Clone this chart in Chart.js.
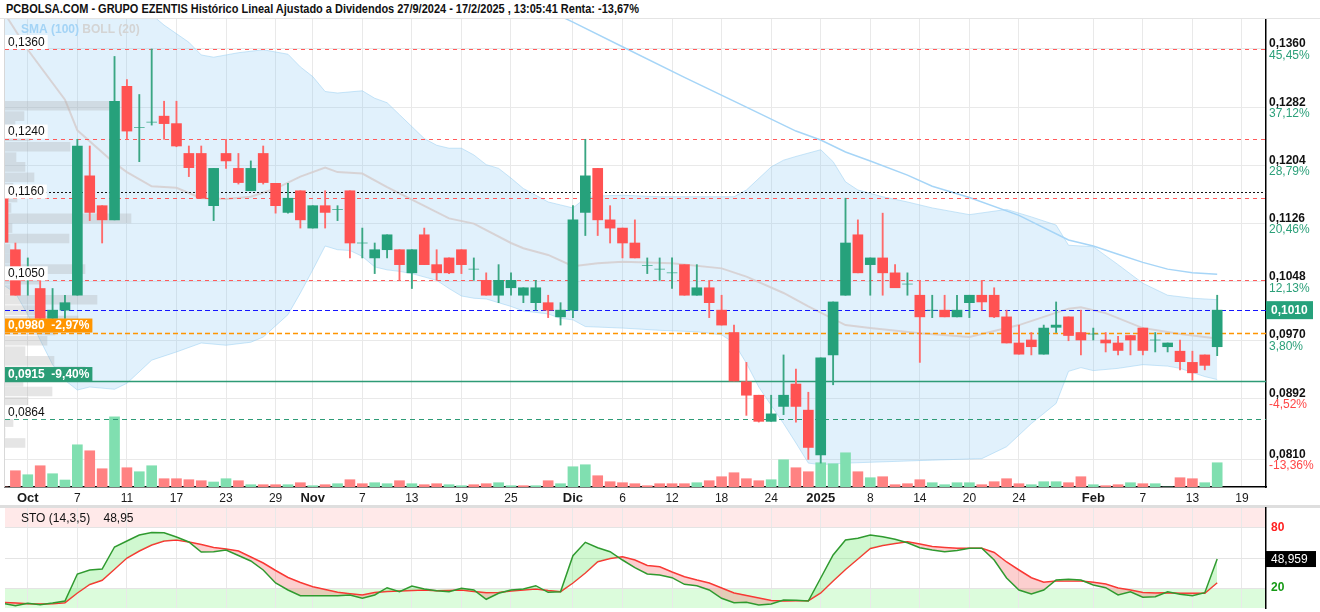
<!DOCTYPE html>
<html lang="es">
<head>
<meta charset="utf-8">
<title>GRUPO EZENTIS</title>
<script src="https://cdn.jsdelivr.net/npm/chart.js@4.4.1/dist/chart.umd.min.js"></script>
<style>
  html, body { margin: 0; padding: 0; background: #fff; }
  body { width: 1320px; height: 612px; position: relative; overflow: hidden;
         font-family: "Liberation Sans Narrow", "Liberation Sans", Arial, sans-serif; }
  #titleBar { position: absolute; left: 0; top: 0; width: 1320px; height: 19px; background: #fff;
              border-bottom: 1px solid #e4e4e4; box-sizing: border-box; z-index: 2; }
  #title { position: absolute; left: 6px; top: 0; font-weight: bold; font-size: 12px; line-height: 19px;
           color: #111; white-space: nowrap; transform: scaleX(0.915); transform-origin: left center; }
  #main { position: absolute; left: 0; top: 0; }
  #sep { position: absolute; left: 0; top: 505px; width: 1320px; height: 3px; background: #dedede; }
  #sto { position: absolute; left: 0; top: 505px; }
  #stoTitle { position: absolute; left: 21px; top: 511px; font-size: 12px; color: #111; white-space: pre; }
</style>
</head>
<body>
<div id="titleBar"><div id="title">PCBOLSA.COM - GRUPO EZENTIS Histórico Lineal Ajustado a Dividendos 27/9/2024 - 17/2/2025 , 13:05:41 Renta: -13,67%</div></div>
<canvas id="main" width="1320" height="507"></canvas>
<div id="sep"></div>
<canvas id="sto" width="1320" height="107"></canvas>
<div id="stoTitle">STO (14,3,5)    48,95</div>
<script>
const FONT = '"Liberation Sans Narrow", "Liberation Sans", Arial, sans-serif';
const UP = '#26a17b';
const DOWN = '#ff5252';

// eje x: una sesion por indice, 0 = 27/9/2024 ... 98 = 17/2/2025
const xTickIdx = [2, 6, 10, 14, 18, 22, 25, 29, 33, 37, 41, 46, 50, 54, 58, 62, 66, 70, 74, 78, 82, 88, 92, 96, 100];
const xTickLabels = ['Oct', '7', '11', '17', '23', '29', 'Nov', '7', '13', '19', '25', 'Dic', '6', '12', '18', '24', '2025', '8', '14', '20', '24', 'Feb', '7', '13', '19'];
const majorLabels = ['Oct', 'Nov', 'Dic', '2025', 'Feb'];

// eje de precios
const yTickVals = [0.1360, 0.1282, 0.1204, 0.1126, 0.1048, 0.0970, 0.0892, 0.0810];
const yTickLabels = ['0,1360', '0,1282', '0,1204', '0,1126', '0,1048', '0,0970', '0,0892', '0,0810'];
const yTickPct = ['45,45%', '37,12%', '28,79%', '20,46%', '12,13%', '3,80%', '-4,52%', '-13,36%'];

// velas
const opens = [
  .1160, .1091, .1055, .1039, .0999, .1010, .1030, .1190, .1150, .1131,
  .1310, .1255, .1262, .1270, .1260, .1220, .1220, .1150, .1220, .1200,
  .1170, .1220, .1180, .1141, .1170, .1120, .1150, .1145, .1170, .1100,
  .1080, .1091, .1091, .1060, .1111, .1071, .1080, .1091, .1065, .1050,
  .1030, .1040, .1030, .1020, .1020, .1001, .1010, .1141, .1200, .1131,
  .1120, .1100, .1070, .1065, .1060, .1071, .1030, .1040, .1010, .0980,
  .0914, .0896, .0861, .0881, .0911, .0876, .0816, .0950, .1030, .1111,
  .1071, .1080, .1060, .1045, .1030, .1010, .1010, .1001, .1020, .1030,
  .1030, .1001, .0966, .0970, .0951, .0987, .1001, .0980, .0978, .0970,
  .0966, .0976, .0986, .0970, .0961, .0955, .0940, .0950, .0961];
const highs = [
  .1160, .1100, .1080, .1050, .1039, .1030, .1239, .1230, .1150, .1350,
  .1319, .1299, .1360, .1290, .1290, .1230, .1230, .1200, .1239, .1220,
  .1210, .1230, .1180, .1180, .1170, .1150, .1170, .1150, .1170, .1120,
  .1100, .1111, .1091, .1091, .1120, .1091, .1080, .1091, .1080, .1060,
  .1071, .1060, .1040, .1050, .1030, .1020, .1150, .1239, .1200, .1150,
  .1120, .1131, .1080, .1080, .1080, .1071, .1071, .1050, .1030, .0990,
  .0940, .0896, .0896, .0950, .0931, .0900, .0946, .1021, .1160, .1131,
  .1080, .1140, .1071, .1060, .1050, .1030, .1030, .1030, .1030, .1050,
  .1040, .1010, .0990, .0980, .0990, .1021, .1001, .1010, .0986, .0980,
  .0975, .0976, .0986, .0980, .0966, .0970, .0955, .0950, .1030];
const lows = [
  .1101, .1030, .1030, .0990, .0994, .0999, .1030, .1130, .1100, .1131,
  .1239, .1209, .1258, .1239, .1229, .1189, .1160, .1130, .1200, .1179,
  .1170, .1179, .1140, .1140, .1120, .1120, .1120, .1130, .1080, .1080,
  .1059, .1080, .1050, .1039, .1071, .1050, .1059, .1059, .1050, .1030,
  .1020, .1030, .1020, .1010, .1000, .0990, .1000, .1110, .1110, .1100,
  .1080, .1080, .1059, .1050, .1039, .1030, .1030, .1000, .0990, .0915,
  .0869, .0860, .0861, .0870, .0860, .0810, .0805, .0910, .1030, .1060,
  .1030, .1030, .1040, .1030, .0940, .1000, .1001, .1001, .1000, .1010,
  .1000, .0966, .0951, .0950, .0951, .0980, .0969, .0950, .0970, .0954,
  .0950, .0950, .0950, .0954, .0954, .0930, .0916, .0930, .0949];
const closes = [
  .1101, .1030, .1063, .0999, .1010, .1020, .1230, .1141, .1131, .1290,
  .1250, .1255, .1262, .1260, .1230, .1201, .1160, .1200, .1210, .1181,
  .1200, .1181, .1150, .1160, .1131, .1150, .1141, .1145, .1100, .1100,
  .1091, .1111, .1071, .1091, .1071, .1060, .1060, .1071, .1065, .1030,
  .1050, .1050, .1040, .1040, .1010, .1010, .1131, .1190, .1131, .1120,
  .1100, .1080, .1070, .1065, .1060, .1030, .1040, .1020, .0990, .0915,
  .0896, .0861, .0871, .0896, .0881, .0826, .0946, .1021, .1100, .1060,
  .1080, .1060, .1040, .1045, .1001, .1010, .1001, .1010, .1030, .1021,
  .1001, .0966, .0951, .0961, .0986, .0990, .0976, .0970, .0978, .0966,
  .0956, .0970, .0956, .0970, .0966, .0941, .0926, .0936, .1010];

// volumen (miles de titulos) y sentido de la barra
const volumes = [
  0, 1630, 1230, 2130, 1330, 700, 4230, 3630, 1830, 7030,
  1930, 1530, 2130, 830, 830, 730, 630, 500, 830, 630,
  230, 230, 230, 230, 430, 130, 230, 330, 730, 330,
  430, 330, 630, 330, 230, 330, 230, 130, 230, 330,
  430, 130, 130, 130, 630, 330, 2030, 2230, 1130, 530,
  430, 330, 130, 330, 330, 330, 430, 630, 1030, 1430,
  830, 630, 730, 2730, 1930, 1530, 2430, 2330, 3430, 1530,
  930, 1030, 230, 330, 730, 430, 230, 430, 430, 230,
  530, 830, 330, 230, 530, 530, 430, 1030, 230, 130,
  230, 430, 330, 330, 0, 930, 830, 430, 2430];
const volDir = [
  -1, -1, 1, -1, 1, 1, 1, -1, -1, 1,
  -1, 1, 1, -1, -1, -1, -1, 1, 1, -1,
  1, -1, -1, 1, -1, 1, -1, 1, -1, -1,
  1, 1, -1, 1, -1, -1, 1, 1, -1, -1,
  1, 1, -1, 1, -1, 1, 1, 1, -1, -1,
  -1, -1, -1, -1, -1, -1, 1, -1, -1, -1,
  -1, -1, 1, 1, -1, -1, 1, 1, 1, -1,
  1, -1, -1, -1, -1, 1, 1, 1, 1, -1,
  -1, -1, -1, 1, 1, 1, -1, -1, 1, -1,
  -1, 1, -1, 1, 1, -1, -1, 1, 1];

// perfil de volumen por precio
const vpPrice = [0.1284, 0.1270, 0.1257, 0.1243, 0.1229, 0.1215, 0.1202, 0.1188, 0.1174, 0.1161,
  0.1147, 0.1133, 0.1120, 0.1106, 0.1092, 0.1079, 0.1065, 0.1051, 0.1037, 0.1024,
  0.1010, 0.0996, 0.0983, 0.0969, 0.0955, 0.0942, 0.0928, 0.0914, 0.0901, 0.0887,
  0.0873, 0.0860, 0.0846, 0.0832];
const vpVol = [1050, 190, 100, 250, 650, 110, 200, 290, 80, 120,
  60, 1260, 70, 640, 50, 120, 800, 350, 50, 920,
  400, 730, 500, 420, 200, 490, 800, 180, 470, 230,
  0, 80, 0, 200];

// Bollinger (20) y SMA (100)
const bbUpIdx = [0, 5, 10, 12, 13, 15, 16, 17, 19, 21, 23, 24, 25, 26, 27, 29, 30, 31, 32, 33, 34, 35, 36, 37, 38, 39, 40, 41, 42, 43, 44, 45, 46, 47, 48, 50, 53, 56, 59, 60, 62, 63, 64, 66, 67, 68, 69, 71, 73, 75, 78, 81, 83, 85, 86, 88, 90, 92, 94, 96, 98];
const bbUp = [0.1432, 0.1439, 0.1426, 0.1406, 0.1392, 0.1369, 0.1352, 0.1349, 0.1355, 0.1359,
  0.1353, 0.1336, 0.1323, 0.1303, 0.1301, 0.1304, 0.1294, 0.1288, 0.1272, 0.1256,
  0.1240, 0.1231, 0.1227, 0.1227, 0.1218, 0.1205, 0.1200, 0.1187, 0.1173, 0.1164,
  0.1155, 0.1151, 0.1147, 0.1160, 0.1163, 0.1164, 0.1162, 0.1162, 0.1162, 0.1171,
  0.1202, 0.1211, 0.1216, 0.1225, 0.1209, 0.1182, 0.1171, 0.1162, 0.1155, 0.1147,
  0.1138, 0.1145, 0.1135, 0.1124, 0.1097, 0.1095, 0.1071, 0.1046, 0.1030, 0.1026, 0.1024];
const bbLowIdx = [0, 1, 2, 3, 4, 5, 6, 7, 9, 10, 12, 14, 16, 18, 20, 21, 23, 24, 25, 26, 27, 28, 29, 30, 31, 32, 33, 35, 36, 37, 38, 39, 41, 42, 44, 45, 46, 47, 50, 53, 56, 58, 59, 60, 61, 63, 64, 65, 66, 68, 75, 79, 81, 83, 85, 86, 87, 88, 90, 92, 94, 95, 97, 98];
const bbLow = [0.1044, 0.1033, 0.1004, 0.0970, 0.0937, 0.0916, 0.0903, 0.0907, 0.0904, 0.0912,
  0.0943, 0.0954, 0.0966, 0.0963, 0.0967, 0.0974, 0.1004, 0.1033, 0.1064, 0.1096,
  0.1091, 0.1090, 0.1082, 0.1068, 0.1064, 0.1062, 0.1059, 0.1050, 0.1039, 0.1029,
  0.1026, 0.1025, 0.1015, 0.1009, 0.1005, 0.0999, 0.0997, 0.0988, 0.0986, 0.0983,
  0.0981, 0.0977, 0.0966, 0.0939, 0.0907, 0.0858, 0.0832, 0.0805, 0.0803, 0.0805,
  0.0809, 0.0811, 0.0827, 0.0858, 0.0885, 0.0928, 0.0933, 0.0929, 0.0932, 0.0937,
  0.0935, 0.0932, 0.0921, 0.0917];
const bbMidIdx = [0, 2, 5, 6, 9, 10, 12, 14, 16, 18, 20, 22, 24, 26, 27, 29, 31, 33, 36, 38, 41, 42, 44, 46, 48, 50, 54, 58, 60, 63, 65, 68, 70, 74, 78, 82, 86, 87, 89, 92, 95, 98];
const bbMid = [0.1411, 0.1359, 0.1292, 0.1251, 0.1207, 0.1195, 0.1176, 0.1174, 0.1160, 0.1159,
  0.1162, 0.1173, 0.1189, 0.1201, 0.1195, 0.1193, 0.1175, 0.1158, 0.1133, 0.1126,
  0.1100, 0.1093, 0.1084, 0.1069, 0.1073, 0.1075, 0.1073, 0.1066, 0.1055, 0.1033,
  0.1015, 0.0990, 0.0986, 0.0979, 0.0974, 0.0990, 0.1012, 0.1014, 0.1006, 0.0986,
  0.0978, 0.0972];
const smaIdx = [44, 46, 50, 55, 60, 64, 66, 68, 70, 73, 75, 78, 82, 86, 88, 90, 92, 94, 96, 98];
const sma100 = [0.1412, 0.1396, 0.1363, 0.1322, 0.1282, 0.1250, 0.1238, 0.1222, 0.1210, 0.1191,
  0.1176, 0.1161, 0.1137, 0.1104, 0.1096, 0.1085, 0.1074, 0.1065, 0.1060, 0.1058];

// niveles horizontales
const redLevels = [0.1360, 0.1240, 0.1160, 0.1050];
const redLabels = ['0,1360', '0,1240', '0,1160', '0,1050'];
const dotLevel = 0.1169;
const lastPrice = 0.1010;
const orangeLevel = 0.0980;
const greenLevel = 0.0915;
const greenDashLevel = 0.0864;

// estocastico (14,3,5)
const stoK = [
  4.5, 2.3, 4.7, 3.3, 5, 7, 34, 38, 39, 61,
  67, 73, 75.5, 75.3, 71, 66, 56, 56.3, 58, 52.5,
  47, 38, 25, 18, 12.3, 12.3, 12.3, 12.3, 13, 9.7,
  13, 20.3, 16.3, 22, 19, 17.3, 16.3, 19.7, 18, 8.7,
  14.7, 18, 19, 22.3, 15.7, 16.3, 52.3, 65.7, 60.3, 56.3,
  48, 40.3, 34, 33, 30.3, 23.7, 22.3, 18, 9.7, 5.3,
  5.7, 3, 4, 8, 7.7, 7, 30, 53, 68, 69.7,
  73, 71.3, 68.7, 65.3, 60.3, 58, 56.3, 57.5, 59.7, 59.7,
  48, 30, 18, 14, 18, 28, 28.7, 28, 23, 20.3,
  13, 16.3, 10.7, 11.3, 16.3, 13.7, 12.3, 15.3, 48.959];
const stoD = [
  5.7, 5, 4.3, 4, 4.3, 5.3, 15, 23.5, 27.7, 38.8,
  50, 57, 63, 67, 68, 66, 63.5, 60.5, 59, 57,
  51, 45, 37.5, 30.5, 25.5, 21.3, 18.5, 15.7, 14.3, 13,
  15.5, 16.5, 17, 17.5, 18, 17.2, 17.5, 18, 16.5, 15.3,
  15.5, 17, 18, 19, 17.5, 16.3, 25, 35, 46.3, 49.5,
  51.3, 48, 42.5, 41.3, 36, 31.3, 28, 25, 20, 15,
  12.5, 10, 7.5, 7, 7.3, 7.3, 15, 27, 38.5, 49,
  59.5, 62.5, 64.5, 66.3, 64, 61.5, 60.5, 59.7, 59.7, 59.7,
  55.5, 46, 38, 30.3, 25.7, 27, 27, 27, 25.7, 24,
  20, 18, 15.5, 15, 15.3, 14.7, 14.7, 14.7, 25.3];
const stoTicks = [20, 50, 80];

const pts = (idx, vals) => idx.map((x, k) => ({ x: x, y: vals[k] }));

function xAxis(showLabels) {
  return {
    type: 'linear', min: 0.16, max: 101.94, offset: false,
    afterBuildTicks: s => { s.ticks = xTickIdx.map(v => ({ value: v })); },
    afterFit: s => {
      s.height = showLabels ? 20 : 0;
      s.paddingLeft = 0; s.paddingRight = 0;
    },
    grid: { color: '#e9e9e9', offset: false, drawTicks: false },
    border: { display: showLabels, color: '#000', width: 1.5 },
    ticks: {
      display: showLabels, autoSkip: false, maxRotation: 0, padding: 4, color: '#1a1a1a',
      callback: v => xTickLabels[xTickIdx.indexOf(v)],
      font: ctx => {
        const lbl = ctx.tick ? xTickLabels[xTickIdx.indexOf(ctx.tick.value)] : '';
        const big = majorLabels.includes(lbl);
        return { family: FONT, size: big ? 13 : 12, weight: big ? 'bold' : 'normal' };
      }
    }
  };
}

const pcbPlugin = {
  id: 'pcb',
  beforeDatasetDraw(chart, args) {
    if (args.index !== 6) return;
    const { ctx, chartArea: a } = chart;
    const y = chart.scales.y;
    const line = (v, color, dash, width, x0) => {
      const py = Math.round(y.getPixelForValue(v)) + 0.5;
      ctx.beginPath();
      ctx.setLineDash(dash);
      ctx.lineWidth = width;
      ctx.strokeStyle = color;
      ctx.moveTo(x0 || a.left, py);
      ctx.lineTo(a.right, py);
      ctx.stroke();
    };
    ctx.save();
    redLevels.forEach(v => line(v, '#ff5a5a', [4, 4], 1));
    line(dotLevel, '#111', [2, 2], 1, 45);
    line(lastPrice, '#1414ff', [5, 3], 1.2);
    line(orangeLevel, '#ff9500', [5, 3], 1.5);
    line(greenLevel, '#2e9b76', [], 1.4);
    line(greenDashLevel, '#2e9b76', [5, 4], 1.2);
    ctx.restore();
  },
  afterDatasetsDraw(chart) {
    const { ctx, chartArea: a } = chart;
    const y = chart.scales.y;
    ctx.save();
    ctx.textAlign = 'left';
    ctx.textBaseline = 'middle';

    // borde izquierdo
    ctx.strokeStyle = '#d8d8d8';
    ctx.lineWidth = 1;
    ctx.beginPath();
    ctx.moveTo(a.left - 0.5, a.top);
    ctx.lineTo(a.left - 0.5, a.bottom);
    ctx.stroke();

    const tag = (v, text, bg, fg, bold, minW, centered) => {
      const py = y.getPixelForValue(v);
      ctx.font = (bold ? 'bold ' : '') + '12px ' + FONT;
      const w = Math.max(ctx.measureText(text).width + 6, minW || 0);
      const top = centered ? py - 7 : py - 14;
      ctx.fillStyle = bg;
      ctx.fillRect(a.left, top, w, 14);
      ctx.fillStyle = fg;
      ctx.fillText(text, a.left + 3, top + 7.5);
    };
    tag(redLevels[0], redLabels[0], '#fff', '#111');
    tag(redLevels[1], redLabels[1], '#fff', '#111');
    tag(dotLevel, redLabels[2], '#fff', '#111', false, 0, true);
    tag(redLevels[3], redLabels[3], '#fff', '#111');
    tag(orangeLevel, '0,0980  -2,97%', '#ff9500', '#fff', true, 79);
    tag(greenLevel, '0,0915  -9,40%', '#2a9d76', '#fff', true, 79);
    tag(greenDashLevel, '0,0864', '#fff', '#111');

    // leyenda
    ctx.font = 'bold 12px ' + FONT;
    ctx.fillStyle = '#a4d4f6';
    ctx.fillText('SMA (100)', 21, 30);
    const w1 = ctx.measureText('SMA (100) ').width;
    ctx.fillStyle = '#d4d4d4';
    ctx.fillText('BOLL (20)', 21 + w1, 30);

    // eje derecho
    const ax = a.right + 3;
    yTickVals.forEach((v, k) => {
      const py = y.getPixelForValue(v);
      ctx.font = 'bold 12px ' + FONT;
      ctx.fillStyle = '#111';
      ctx.fillText(yTickLabels[k], ax, py - 5);
      ctx.font = '12px ' + FONT;
      ctx.fillStyle = yTickPct[k].startsWith('-') ? '#ff4646' : '#2ca07a';
      ctx.fillText(yTickPct[k], ax, py + 6.5);
    });

    // ultimo precio
    const lp = y.getPixelForValue(lastPrice);
    ctx.fillStyle = '#26a17b';
    ctx.fillRect(a.right, lp - 9, 47, 18);
    ctx.fillStyle = '#fff';
    ctx.font = 'bold 12px ' + FONT;
    ctx.fillText('0,1010', a.right + 5, lp + 0.5);
    ctx.restore();
  }
};

const candleColor = closes.map((c, i) => c >= opens[i] ? UP : DOWN);
const wickColor = closes.map((c, i) => c >= opens[i] ? '#3aa683' : '#ff6a6a');
const volColor = volDir.map(d => d > 0 ? '#80dfb0' : '#ff8282');

new Chart(document.getElementById('main'), {
  type: 'bar',
  data: {
    datasets: [
      { type: 'line', label: 'BOLL sup', data: pts(bbUpIdx, bbUp), borderColor: 'rgba(150,205,242,0.5)',
        borderWidth: 1, pointRadius: 0, fill: { target: 1 }, backgroundColor: 'rgba(135,200,245,0.25)', order: 20 },
      { type: 'line', label: 'BOLL inf', data: pts(bbLowIdx, bbLow), borderColor: 'rgba(150,205,242,0.5)',
        borderWidth: 1, pointRadius: 0, fill: false, order: 19 },
      { type: 'line', label: 'BOLL media', data: pts(bbMidIdx, bbMid), borderColor: 'rgba(214,204,204,0.8)',
        borderWidth: 2, pointRadius: 0, fill: false, order: 18 },
      { type: 'line', label: 'SMA (100)', data: pts(smaIdx, sma100), borderColor: '#a6d5f7',
        borderWidth: 1.5, pointRadius: 0, fill: false, order: 17 },
      { type: 'bar', label: 'Perfil', indexAxis: 'y', xAxisID: 'xvp', yAxisID: 'y',
        data: vpPrice.map((p, k) => ({ x: vpVol[k], y: p })),
        backgroundColor: 'rgba(170,170,170,0.3)', barThickness: 9, order: 16 },
      { type: 'bar', label: 'Volumen', xAxisID: 'x', yAxisID: 'yv',
        data: volumes.map((v, i) => ({ x: i, y: v })), backgroundColor: volColor, barThickness: 10, order: 15 },
      { type: 'bar', label: 'Mechas', xAxisID: 'x', yAxisID: 'y',
        data: lows.map((l, i) => ({ x: i, y: [l, highs[i]] })), backgroundColor: wickColor, barThickness: 1.2, order: 14 },
      { type: 'bar', label: 'Cuerpos', xAxisID: 'x', yAxisID: 'y',
        data: opens.map((o, i) => ({ x: i, y: [o, closes[i]] })), backgroundColor: candleColor, barThickness: 10, order: 13 }
    ]
  },
  options: {
    responsive: false,
    animation: false,
    devicePixelRatio: 1,
    layout: { padding: { left: 5, top: 19, right: 0, bottom: 0 } },
    datasets: { bar: { grouped: false, borderWidth: 0, borderSkipped: false } },
    plugins: { legend: { display: false }, tooltip: { enabled: false } },
    scales: {
      x: xAxis(true),
      y: {
        type: 'linear', position: 'right', min: 0.0773, max: 0.14002, offset: false, beginAtZero: false,
        afterBuildTicks: s => { s.ticks = yTickVals.map(v => ({ value: v })); },
        afterFit: s => { s.width = 54; s.paddingTop = 0; s.paddingBottom = 0; },
        grid: { color: '#e9e9e9', offset: false, drawTicks: false },
        border: { color: '#000', width: 1.5 },
        ticks: { display: false }
      },
      yv: { type: 'linear', display: false, min: 0, max: 46900, offset: false },
      xvp: { type: 'linear', display: false, min: 0, max: 12610, offset: false }
    }
  },
  plugins: [pcbPlugin]
});

const stoPlugin = {
  id: 'stoBands',
  beforeDraw(chart) {
    const { ctx, chartArea: a } = chart;
    const y = chart.scales.y;
    ctx.save();
    ctx.fillStyle = '#ffe9e9';
    ctx.fillRect(a.left, y.getPixelForValue(100), a.right - a.left, y.getPixelForValue(80) - y.getPixelForValue(100));
    ctx.fillStyle = '#dcfcdc';
    ctx.fillRect(a.left, y.getPixelForValue(20), a.right - a.left, y.getPixelForValue(0) - y.getPixelForValue(20));
    ctx.restore();
  },
  afterDraw(chart) {
    const { ctx, chartArea: a } = chart;
    const y = chart.scales.y;
    ctx.save();
    ctx.textAlign = 'left';
    ctx.textBaseline = 'middle';
    ctx.font = 'bold 12px ' + FONT;
    ctx.fillStyle = '#ff2020';
    ctx.fillText(String(stoTicks[2]), a.right + 5, y.getPixelForValue(stoTicks[2]));
    ctx.fillStyle = '#169a16';
    ctx.fillText(String(stoTicks[0]), a.right + 5, y.getPixelForValue(stoTicks[0]));

    const py = y.getPixelForValue(stoK[stoK.length - 1]);
    ctx.fillStyle = '#000';
    ctx.fillRect(a.right, py - 8, 50, 16);
    ctx.fillStyle = '#fff';
    ctx.font = '12px ' + FONT;
    ctx.fillText('48,959', a.right + 5, py + 0.5);
    ctx.restore();
  }
};

new Chart(document.getElementById('sto'), {
  type: 'line',
  data: {
    datasets: [
      { label: '%K', data: stoK.map((v, i) => ({ x: i, y: v })), borderColor: '#2f9a2f', borderWidth: 1.5,
        pointRadius: 0, fill: { target: 1, above: 'rgba(120,235,120,0.35)', below: 'rgba(245,110,110,0.33)' } },
      { label: '%D', data: stoD.map((v, i) => ({ x: i, y: v })), borderColor: '#ff2a2a', borderWidth: 1.5,
        pointRadius: 0, fill: false }
    ]
  },
  options: {
    responsive: false,
    animation: false,
    devicePixelRatio: 1,
    layout: { padding: { left: 5, top: 3, right: 0, bottom: 4 } },
    plugins: { legend: { display: false }, tooltip: { enabled: false } },
    scales: {
      x: xAxis(false),
      y: {
        type: 'linear', position: 'right', min: 0, max: 100,
        afterBuildTicks: s => { s.ticks = stoTicks.map(v => ({ value: v })); },
        afterFit: s => { s.width = 54; s.paddingTop = 0; s.paddingBottom = 0; },
        grid: { color: '#e4e4e4', drawTicks: false },
        border: { color: '#000', width: 1.5 },
        ticks: { display: false }
      }
    }
  },
  plugins: [stoPlugin]
});
</script>
</body>
</html>
